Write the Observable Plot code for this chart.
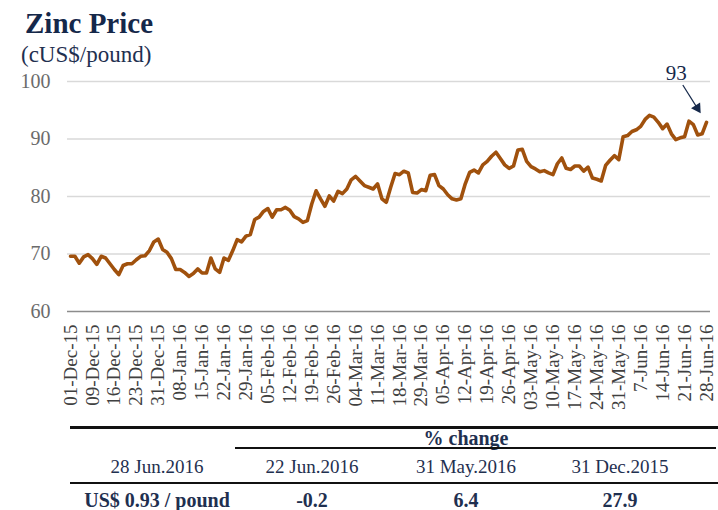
<!DOCTYPE html>
<html>
<head>
<meta charset="utf-8">
<script src="https://cdn.jsdelivr.net/npm/d3@7"></script>
<script src="https://cdn.jsdelivr.net/npm/@observablehq/plot@0.6"></script>
<style>
  html, body { margin: 0; padding: 0; background: #fff; }
  #wrap { position: relative; width: 718px; height: 510px; overflow: hidden; font-family: "Liberation Serif", serif; }
  #chart { position: absolute; left: 0; top: 0; }
  .abs { position: absolute; white-space: nowrap; }
  .title { left: 25px; top: 7px; font-size: 29px; font-weight: bold; color: #15284a; }
  .subtitle { left: 21px; top: 42px; font-size: 23px; color: #1f3050; }
  .cell { transform: translate(-50%, -50%); font-size: 19px; color: #1f3050; }
  .bold { font-weight: bold; font-size: 20px; }
  .hline { position: absolute; background: #111; }
</style>
</head>
<body>
<div id="wrap">
  <div class="abs title">Zinc Price</div>
  <div class="abs subtitle">(cUS$/pound)</div>
  <div id="chart"></div>
</div>
<script>
// Zinc price, cUS$/pound, one value per trading day (01-Dec-15 .. 28-Jun-16)
const prices = [
  69.6, 69.6, 68.4, 69.5, 69.9, 69.2, 68.2, 69.6, 69.3, 68.3,
  67.3, 66.4, 68.0, 68.3, 68.3, 69.0, 69.6, 69.7, 70.6, 72.1,
  72.6, 70.8, 70.3, 69.2, 67.3, 67.3, 66.8, 66.1, 66.6, 67.4,
  66.7, 66.7, 69.3, 67.4, 66.8, 69.3, 68.9, 70.6, 72.5, 72.1,
  73.1, 73.4, 76.0, 76.4, 77.4, 77.9, 76.4, 77.7, 77.7, 78.1,
  77.6, 76.5, 76.1, 75.5, 75.8, 78.7, 81.0, 79.6, 78.3,
  80.1, 79.2, 80.9, 80.5, 81.3, 82.9, 83.5, 82.7, 81.9, 81.6,
  81.3, 82.2, 79.6, 79.0, 81.6, 84.0, 83.8, 84.4, 84.1, 80.7,
  80.6, 81.2, 81.0, 83.7, 83.8, 81.9, 81.3, 80.3, 79.6,
  79.4, 79.6, 82.2, 84.2, 84.6, 84.1, 85.5, 86.1, 87.0, 87.7,
  86.6, 85.5, 84.9, 85.3, 88.1, 88.2, 86.1, 85.2, 84.8, 84.3,
  84.5, 84.1, 83.8, 85.7, 86.7, 84.9, 84.7, 85.3, 85.3, 84.4,
  85.1, 83.2, 83.0, 82.7, 85.4, 86.3, 87.1, 86.4, 90.4, 90.6,
  91.3, 91.6, 92.2, 93.4, 94.1, 93.8, 92.9, 91.8, 92.6, 90.9,
  89.9, 90.2, 90.4, 93.1, 92.5, 90.7, 90.9, 92.9
];

// x-axis labels, one every 5 trading days
const dateLabels = [
  "01-Dec-15", "09-Dec-15", "16-Dec-15", "23-Dec-15", "31-Dec-15",
  "08-Jan-16", "15-Jan-16", "22-Jan-16", "29-Jan-16", "05-Feb-16",
  "12-Feb-16", "19-Feb-16", "26-Feb-16", "04-Mar-16", "11-Mar-16",
  "18-Mar-16", "29-Mar-16", "05-Apr-16", "12-Apr-16", "19-Apr-16",
  "26-Apr-16", "03-May-16", "10-May-16", "17-May-16", "24-May-16",
  "31-May-16", "7-Jun-16", "14-Jun-16", "21-Jun-16", "28-Jun-16"
];
const labelStep = 5;

const yTicks = [60, 70, 80, 90, 100];

// annotation of the last value
const lastLabel = ["93"];

// summary table
const tableHeader = ["% change"];
const tableDates = ["28 Jun.2016", "22 Jun.2016", "31 May.2016", "31 Dec.2015"];
const tableValues = ["US$ 0.93 / pound", "-0.2", "6.4", "27.9"];

const navy = "#15284a";
const lineColor = "#a0510d";
const n = prices.length;
const tickIdx = dateLabels.map((d, i) => i * labelStep);

const chart = Plot.plot({
  width: 718,
  height: 420,
  marginTop: 81,
  marginBottom: 109,
  marginLeft: 70,
  marginRight: 12,
  style: { fontFamily: "Liberation Serif", fontSize: "19px", background: "transparent" },
  x: { domain: [0, n - 1], label: null },
  y: { domain: [60, 100], label: null },
  marks: [
    Plot.ruleY(yTicks.filter(t => t > 60), { stroke: "#d9d9d9", strokeWidth: 1.5, insetLeft: -3, insetRight: -4 }),
    Plot.ruleY([60], { stroke: "#8c8c8c", strokeWidth: 1.5, insetLeft: -3, insetRight: -4 }),
    Plot.axisY({ ticks: yTicks, tickSize: 0, tickPadding: 20, fill: "#6b6b6b", label: null, fontSize: 20 }),
    Plot.axisX({
      ticks: tickIdx, tickFormat: i => dateLabels[i / labelStep], tickRotate: -90,
      tickSize: 0, tickPadding: 13, fill: "#404040", label: null
    }),
    Plot.lineY(prices, {
      x: (d, i) => i, y: d => d, stroke: lineColor, strokeWidth: 3.6,
      strokeLinejoin: "round", strokeLinecap: "round"
    }),
    // annotation: label, arrow shaft and filled head pointing at the last value
    Plot.text(lastLabel, {
      x: () => n - 1 - 6.9, y: () => prices[n - 1] + 8.6, text: d => d,
      fontSize: 21, fill: navy, textAnchor: "middle"
    }),
    Plot.link(lastLabel, {
      x1: () => n - 1 - 5.4, y1: () => prices[n - 1] + 6.5,
      x2: () => n - 1 - 2.2, y2: () => prices[n - 1] + 2.6,
      stroke: navy, strokeWidth: 1.2
    }),
    Plot.dot(lastLabel, {
      x: () => n - 1 - 2.1, y: () => prices[n - 1] + 2.5,
      symbol: "triangle", r: 4, fill: navy, stroke: "none", rotate: 147
    })
  ]
});
document.getElementById("chart").appendChild(chart);

// table below the chart
const wrap = document.getElementById("wrap");
function addLine(left, top, width, h) {
  const d = document.createElement("div");
  d.className = "hline";
  Object.assign(d.style, { left: left + "px", top: top + "px", width: width + "px", height: h + "px" });
  wrap.appendChild(d);
}
function addText(text, cx, cy, bold) {
  const d = document.createElement("div");
  d.className = "abs cell" + (bold ? " bold" : "");
  d.textContent = text;
  Object.assign(d.style, { left: cx + "px", top: cy + "px" });
  wrap.appendChild(d);
}
const colCenters = [157, 312, 466, 620];
addLine(70, 426, 648, 3);
addText(tableHeader[0], 466, 438, true);
addLine(235, 447, 481, 2);
tableDates.forEach((t, i) => addText(t, colCenters[i], 467, false));
addLine(70, 482, 648, 2);
tableValues.forEach((t, i) => addText(t, colCenters[i], 500, true));
</script>
</body>
</html>
